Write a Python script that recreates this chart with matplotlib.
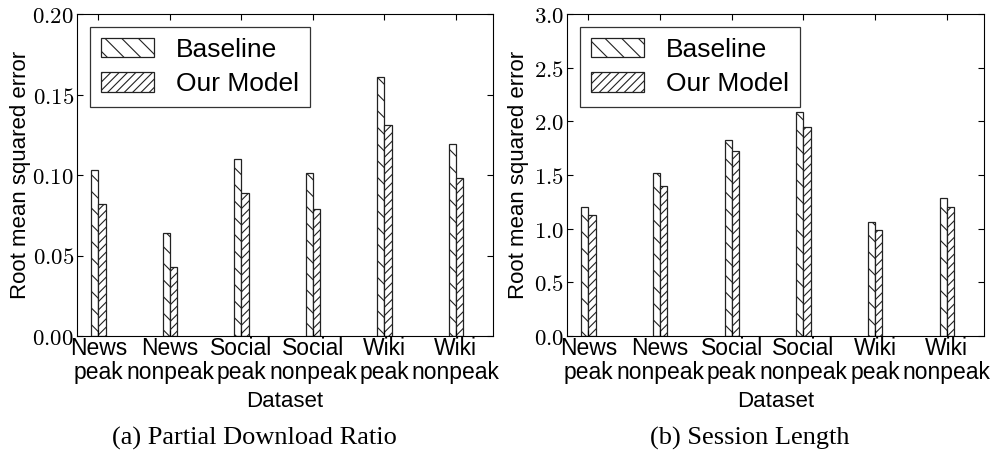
import matplotlib
matplotlib.use('Agg')
import matplotlib.pyplot as plt
from matplotlib.ticker import FormatStrFormatter
import numpy as np

#-------------- data --------------
datasets = ['News\npeak', 'News\nnonpeak', 'Social\npeak', 'Social\nnonpeak', 'Wiki\npeak', 'Wiki\nnonpeak']

pdr_baseline = [0.103, 0.064, 0.110, 0.101, 0.161, 0.119]
pdr_model    = [0.082, 0.043, 0.089, 0.079, 0.131, 0.098]

sess_baseline = [1.205, 1.516, 1.826, 2.090, 1.065, 1.289]
sess_model    = [1.127, 1.400, 1.727, 1.950, 0.988, 1.205]

series_names = ['Baseline', 'Our Model']
captions = ['(a) Partial Download Ratio', '(b) Session Length']

#-------------- style --------------
plt.rcParams['font.family'] = ['Liberation Sans', 'DejaVu Sans']
plt.rcParams['mathtext.fontset'] = 'cm'
plt.rcParams['hatch.linewidth'] = 0.8
plt.rcParams['xtick.direction'] = 'in'
plt.rcParams['ytick.direction'] = 'in'
plt.rcParams['xtick.top'] = True
plt.rcParams['ytick.right'] = True
plt.rcParams['xtick.major.size'] = 4
plt.rcParams['ytick.major.size'] = 4

W, H = 990.0, 454.0
fig = plt.figure(figsize=(9.9, 4.54), dpi=100)

ax1 = fig.add_axes([77 / W, (H - 336) / H, 416 / W, 322 / H])
ax2 = fig.add_axes([567 / W, (H - 336) / H, 417 / W, 322 / H])

x = np.arange(len(datasets))
bw = 0.1


def draw_panel(ax, base, model, ylim, yticks, fmt, ylab_x):
    ax.bar(x - bw / 2, base, bw, color='white', edgecolor='#222222',
           linewidth=0.9, hatch='\\\\', label=series_names[0])
    ax.bar(x + bw / 2, model, bw, color='white', edgecolor='#222222',
           linewidth=0.9, hatch='////', label=series_names[1])
    ax.set_xlim(-0.3, 5.52)
    ax.set_ylim(ylim)
    ax.set_yticks(yticks)
    ax.yaxis.set_major_formatter(FormatStrFormatter(fmt))
    ax.set_xticks(x)
    ax.set_xticklabels(datasets, fontsize=16.5, linespacing=1.05)
    ax.tick_params(axis='x', pad=1)
    ax.tick_params(axis='y', labelsize=16.5, pad=2)
    ax.set_xlabel('Dataset', fontsize=16)
    ax.xaxis.set_label_coords(0.5, -0.17)
    ax.set_ylabel('Root mean squared error', fontsize=16)
    ax.yaxis.set_label_coords(ylab_x, 0.5)
    leg = ax.legend(loc='upper left', fontsize=19, fancybox=False,
                    handlelength=2.0, handleheight=0.75, handletextpad=0.85,
                    borderpad=0.4, labelspacing=0.4)
    leg.get_frame().set_edgecolor('black')
    leg.get_frame().set_linewidth(0.9)


draw_panel(ax1, pdr_baseline, pdr_model, (0, 0.20),
           [0.00, 0.05, 0.10, 0.15, 0.20], '$%.2f$', -0.11)
draw_panel(ax2, sess_baseline, sess_model, (0, 3.0),
           [0.0, 0.5, 1.0, 1.5, 2.0, 2.5, 3.0], '$%.1f$', -0.09)

fig.text(254 / W, 1 - 438 / H, captions[0], ha='center', va='center',
         fontsize=19, family=['Liberation Serif', 'DejaVu Serif'])
fig.text(750 / W, 1 - 438 / H, captions[1], ha='center', va='center',
         fontsize=19, family=['Liberation Serif', 'DejaVu Serif'])

fig.savefig('out.png', dpi=100)
